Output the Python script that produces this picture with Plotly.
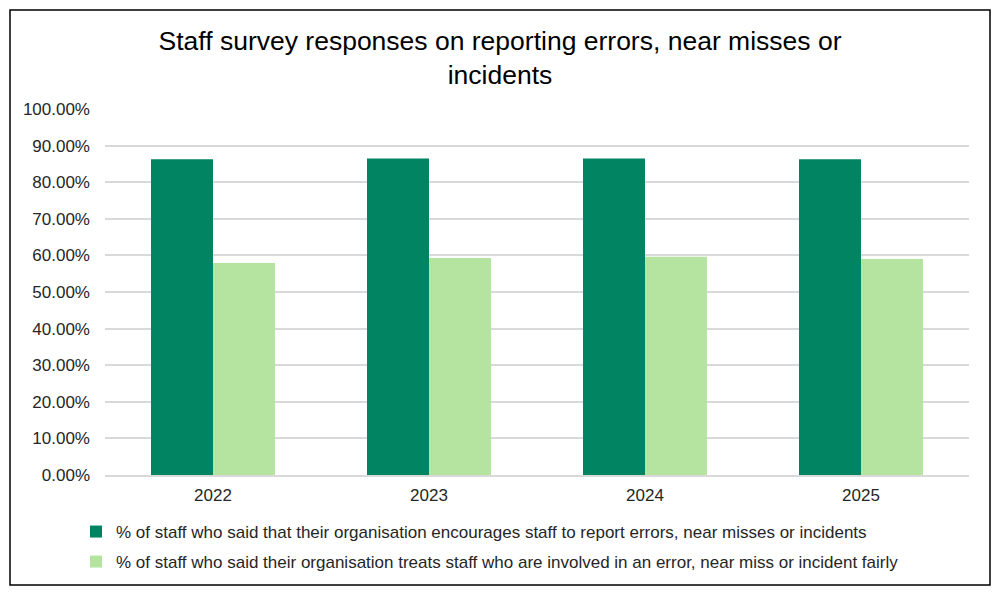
import plotly.graph_objects as go

years = ["2022", "2023", "2024", "2025"]
encourages = [0.863, 0.865, 0.865, 0.863]
treats_fairly = [0.579, 0.593, 0.596, 0.590]
name_enc = "% of staff who said that their organisation encourages staff to report errors, near misses or incidents"
name_fair = "% of staff who said their organisation treats staff who are involved in an error, near miss or incident fairly"
tick_vals = [i / 10 for i in range(11)]
tick_text = [f"{v*100:.2f}%" for v in tick_vals]

fig = go.Figure()
fig.add_trace(go.Bar(x=years, y=encourages, name=name_enc, marker_color="#008462",
                     marker_line_width=0, legend="legend", showlegend=True))
fig.add_trace(go.Bar(x=years, y=treats_fairly, name=name_fair, marker_color="#B4E4A0",
                     marker_line_width=0, legend="legend2", showlegend=True))

W, H = 1000, 597
L, R, T, B = 105, 31, 109, 122
pw, ph = W - L - R, H - T - B

def px(x):
    return (x - L) / pw

def py(y):
    return (H - B - y) / ph

legend_font = dict(family="Liberation Sans, Arial", size=17, color="#262626")
fig.update_layout(
    width=W, height=H,
    margin=dict(l=L, r=R, t=T, b=B),
    paper_bgcolor="white", plot_bgcolor="white",
    barmode="group", bargap=0.426, bargroupgap=0,
    showlegend=True,
    font=dict(family="Liberation Sans, Arial", color="#262626"),
    title=dict(text="Staff survey responses on reporting errors, near misses or<br>incidents",
               x=0.5, xanchor="center", y=1 - 50 / H, yanchor="middle",
               font=dict(size=26.5, color="#000000")),
    xaxis=dict(tickfont=dict(size=17, color="#262626"), showline=True, linecolor="#D9D9D9",
               linewidth=1.5, ticks="", showgrid=False, ticklabelstandoff=4),
    yaxis=dict(range=[0, 1.0], tickvals=tick_vals, ticktext=tick_text,
               tickfont=dict(size=17, color="#262626"), showgrid=True, gridcolor="#D9D9D9",
               gridwidth=1.5, zeroline=False, showline=False, ticks="", ticklen=0,
               ticklabelstandoff=14),
    legend=dict(x=px(76), y=py(532), xanchor="left", yanchor="middle", font=legend_font,
                bgcolor="rgba(0,0,0,0)"),
    legend2=dict(x=px(76), y=py(562), xanchor="left", yanchor="middle", font=legend_font,
                 bgcolor="rgba(0,0,0,0)"),
    shapes=[dict(type="rect", xref="paper", yref="paper",
                 x0=px(10), x1=px(990), y0=py(585), y1=py(10),
                 line=dict(color="#000000", width=1.5), fillcolor="rgba(0,0,0,0)", layer="above")],
)

fig.write_html("out.html")
